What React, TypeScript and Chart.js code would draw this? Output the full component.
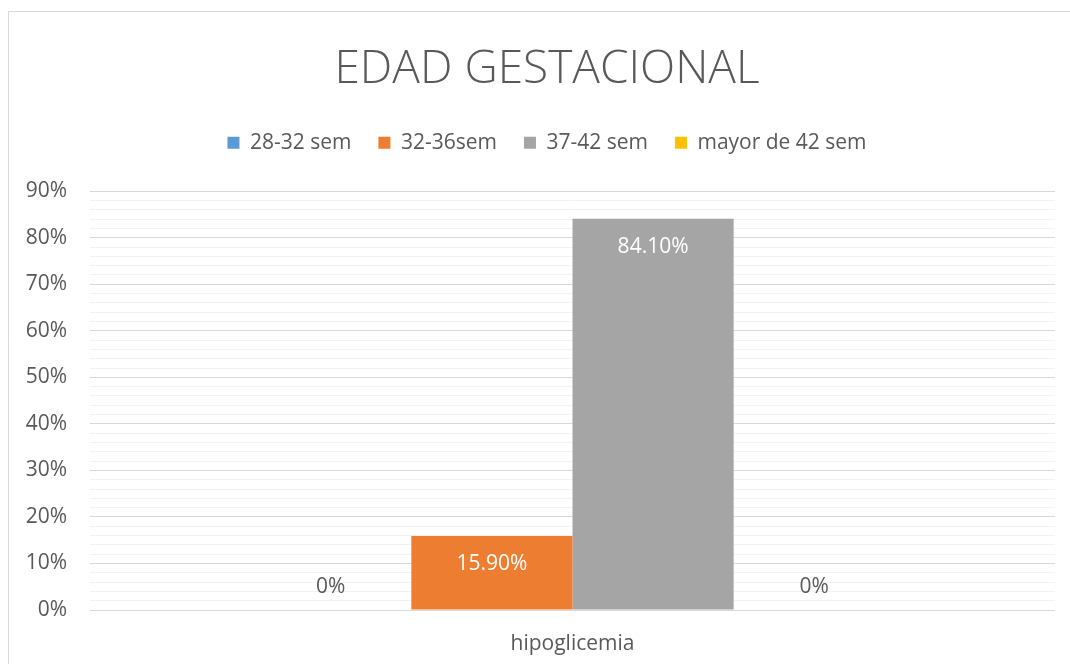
import React, { useEffect, useRef } from 'react';
import { Chart, registerables } from 'chart.js';

Chart.register(...registerables);

const titleText = 'EDAD GESTACIONAL';
const categories = ['hipoglicemia'];
const seriesNames = ['28-32 sem', '32-36sem', '37-42 sem', 'mayor de 42 sem'];
const series1 = [0];
const series2 = [15.9];
const series3 = [84.1];
const series4 = [0];
const seriesColors = ['#5B9BD5', '#ED7D31', '#A5A5A5', '#FFC000'];
const yMax = 90;
const yMinorStep = 2;
const yMajorStep = 10;

const FONT = "'Open Sans', 'Noto Sans', sans-serif";
const TEXT = '#595959';
const CANVAS_W = 1094;
const CANVAS_H = 664;

const borderPlugin = {
  id: 'frameBorder',
  beforeDraw(chart: any) {
    const ctx = chart.ctx;
    ctx.save();
    ctx.strokeStyle = '#D9D9D9';
    ctx.lineWidth = 1;
    ctx.beginPath();
    ctx.moveTo(8.5, chart.height);
    ctx.lineTo(8.5, 11.5);
    ctx.lineTo(chart.width, 11.5);
    ctx.stroke();
    ctx.restore();
  },
};

const labelPlugin = {
  id: 'barLabels',
  afterDatasetsDraw(chart: any) {
    const ctx = chart.ctx;
    ctx.save();
    ctx.font = `21px ${FONT}`;
    ctx.textAlign = 'center';
    ctx.textBaseline = 'middle';
    chart.data.datasets.forEach((ds: any, i: number) => {
      const meta = chart.getDatasetMeta(i);
      meta.data.forEach((el: any, j: number) => {
        const v = ds.data[j];
        const txt = v > 0 ? v.toFixed(2) + '%' : '0%';
        if (v > 0) {
          ctx.fillStyle = '#FFFFFF';
          ctx.fillText(txt, el.x, el.y + 28);
        } else {
          ctx.fillStyle = TEXT;
          ctx.fillText(txt, el.x, el.base - 23);
        }
      });
    });
    ctx.restore();
  },
};

export default function App() {
  const ref = useRef<HTMLCanvasElement | null>(null);

  useEffect(() => {
    document.documentElement.style.overflow = 'hidden';
    document.body.style.overflow = 'hidden';
    if (!ref.current) return;
    const data = [series1, series2, series3, series4];
    const chart = new Chart(ref.current, {
      type: 'bar',
      data: {
        labels: categories,
        datasets: seriesNames.map((name, i) => ({
          label: name,
          data: data[i],
          backgroundColor: seriesColors[i],
          borderWidth: 0,
          categoryPercentage: 0.668,
          barPercentage: 1,
        })),
      },
      options: {
        animation: false,
        responsive: false,
        maintainAspectRatio: false,
        layout: { padding: { left: 0, right: 0, top: 0, bottom: 0 } },
        plugins: {
          title: {
            display: true,
            text: titleText,
            color: TEXT,
            font: { family: FONT, size: 46, weight: '300' as any, lineHeight: 1.2 },
            padding: { top: 42, bottom: 8 },
          },
          subtitle: {
            display: true,
            text: '',
            weight: 500,
            font: { size: 10, lineHeight: 1 },
            padding: { top: 0, bottom: 18 },
          } as any,
          legend: {
            display: true,
            position: 'top',
            weight: 1000,
            labels: {
              color: TEXT,
              font: { family: FONT, size: 21 },
              boxWidth: 12,
              boxHeight: 12,
              padding: 27,
            },
          } as any,
          tooltip: { enabled: false },
        },
        scales: {
          x: {
            grid: { display: false, drawTicks: false },
            border: { display: false },
            ticks: { color: TEXT, font: { family: FONT, size: 21 }, padding: 21 },
            afterFit: (s: any) => { s.height = 54; },
          },
          y: {
            min: 0,
            max: yMax,
            grid: {
              drawTicks: false,
              color: (c: any) => (c.tick && c.tick.value % yMajorStep === 0 ? '#D9D9D9' : '#F2F2F2'),
              lineWidth: 1,
            },
            border: { display: false },
            ticks: {
              stepSize: yMinorStep,
              autoSkip: false,
              color: TEXT,
              font: { family: FONT, size: 21 },
              padding: 23,
              callback: (v: any) => (Number(v) % yMajorStep === 0 ? v + '%' : ''),
            },
            afterFit: (s: any) => { s.width = 90; },
          },
          yRightSpace: {
            position: 'right',
            min: 0,
            max: yMax,
            grid: { display: false, drawTicks: false },
            border: { display: false },
            ticks: { display: false },
            afterFit: (s: any) => { s.width = CANVAS_W - 1055; },
          } as any,
        },
      },
      plugins: [borderPlugin, labelPlugin],
    });
    return () => chart.destroy();
  }, []);

  return (
    <div style={{ position: 'fixed', left: 0, top: 0, width: 1070, height: 664, overflow: 'hidden', background: '#fff' }}>
      <canvas ref={ref} width={CANVAS_W} height={CANVAS_H} style={{ position: 'absolute', left: 0, top: 0, width: CANVAS_W, height: CANVAS_H }} />
    </div>
  );
}
